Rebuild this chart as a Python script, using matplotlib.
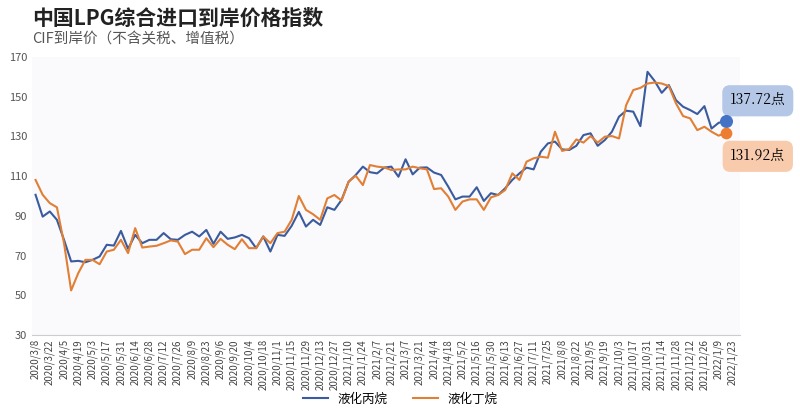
import matplotlib
matplotlib.use("Agg")
import matplotlib.pyplot as plt

plt.rcParams['font.family'] = ['Noto Sans CJK SC', 'DejaVu Sans']

tick_labels = ["2020/3/8","2020/3/22","2020/4/5","2020/4/19","2020/5/3","2020/5/17","2020/5/31",
    "2020/6/14","2020/6/28","2020/7/12","2020/7/26","2020/8/9","2020/8/23","2020/9/6","2020/9/20",
    "2020/10/4","2020/10/18","2020/11/1","2020/11/15","2020/11/29","2020/12/13","2020/12/27",
    "2021/1/10","2021/1/24","2021/2/7","2021/2/21","2021/3/7","2021/3/21","2021/4/4","2021/4/18",
    "2021/5/2","2021/5/16","2021/5/30","2021/6/13","2021/6/27","2021/7/11","2021/7/25","2021/8/8",
    "2021/8/22","2021/9/5","2021/9/19","2021/10/3","2021/10/17","2021/10/31","2021/11/14",
    "2021/11/28","2021/12/12","2021/12/26","2022/1/9","2022/1/23"]

propane = [100.6,89.6,92.2,88,77.9,67,67.3,66.6,67.8,69.5,75.4,75,82.4,73.4,80.4,76.2,77.9,77.9,
    81.3,78.2,77.9,80.4,82,79.6,82.9,75.9,82,78.4,79.1,80.4,78.7,73.7,79.6,72,80.4,79.9,
    85,92,84.6,88,85.4,94.3,93,98,107.2,110.6,114.8,112,111.4,114.3,114.8,109.7,118.5,110.9,
    114.3,114.4,111.8,110.6,104.7,98.3,99.7,99.7,104.4,97.5,101.4,100.5,103.9,108.1,111.4,114.3,
    113.4,122.3,126.5,127.4,123.5,123.2,125.3,130.7,131.6,125.3,128.2,132.4,140,143,142.5,135.2,
    162.6,158,152,155.9,148.3,145,143.3,141.3,145.3,134,136.9,137.72]
butane = [108.1,100.6,96.4,94.3,76.2,52.4,61.1,67.8,67.8,65.6,72,72.9,77.9,71.2,83.8,74,74.5,74.9,
    76.2,77.6,77,70.7,72.9,72.9,78.7,74.2,78.4,75.4,73.2,78.2,73.7,73.7,79.6,76.2,81.3,82,
    88,100,93,90.8,88,98.8,100.5,97.7,107.2,110.2,105.5,115.6,114.8,114.4,113.1,113.4,113.4,114.8,
    114,113.4,103.5,103.9,99.7,93,97.2,98.3,98.3,93,99.3,100.5,103,111.4,108.1,117.3,
    119,119.8,119.3,132.4,122.7,123.7,128.5,126.9,130.2,126.9,129.9,130.2,129,145.8,153.4,154.5,
    156.7,157.2,156.7,155.4,146.7,140.3,139.1,133.2,134.9,132.4,130.4,131.92]

blue = '#3a5b9e'
orange = '#e07f35'

fig = plt.figure(figsize=(8, 4.17), dpi=100)
ax = fig.add_axes([0.04, 0.197, 0.885, 0.666])
ax.set_facecolor('#fafafc')
x = list(range(len(propane)))
ax.plot(x, propane, color=blue, lw=1.5, label='液化丙烷')
ax.plot(x, butane, color=orange, lw=1.5, label='液化丁烷')
ax.scatter([x[-1]], [propane[-1]], color='#4472c4', s=70, zorder=5)
ax.scatter([x[-1]], [butane[-1]], color='#ed7d31', s=55, zorder=5)

ax.set_ylim(30, 170)
ax.set_yticks(range(30, 171, 20))
ax.set_xlim(-0.5, 99)
ax.set_xticks(range(0, 2 * len(tick_labels), 2))
ax.set_xticklabels(tick_labels, rotation=90, fontsize=7, color='#444444')
ax.tick_params(axis='y', labelsize=8, colors='#555555', length=0)
ax.tick_params(axis='x', length=0, pad=3)
for s in ['top', 'right', 'left']:
    ax.spines[s].set_visible(False)
ax.spines['bottom'].set_color('#cccccc')

ax.annotate(f'{propane[-1]:.2f}点', xy=(x[-1], propane[-1]), xytext=(101.5, 148),
            textcoords='data', fontsize=10, ha='center', va='center',
            family=['Noto Serif CJK SC', 'DejaVu Serif'], annotation_clip=False,
            bbox=dict(boxstyle='round,pad=0.55', fc='#b4c7e7', ec='none'))
ax.annotate(f'{butane[-1]:.2f}点', xy=(x[-1], butane[-1]), xytext=(101.5, 120),
            textcoords='data', fontsize=10, ha='center', va='center',
            family=['Noto Serif CJK SC', 'DejaVu Serif'], annotation_clip=False,
            bbox=dict(boxstyle='round,pad=0.55', fc='#f8cbad', ec='none'))

fig.text(0.04, 0.955, '中国LPG综合进口到岸价格指数', fontsize=15, fontweight='bold',
         color='#222222', va='center')
fig.text(0.04, 0.905, 'CIF到岸价（不含关税、增值税）', fontsize=10.5, color='#555555', va='center')

fig.legend(loc='lower center', bbox_to_anchor=(0.5, 0.0), ncol=2, frameon=False, fontsize=9)
fig.savefig('out.png', dpi=100)
